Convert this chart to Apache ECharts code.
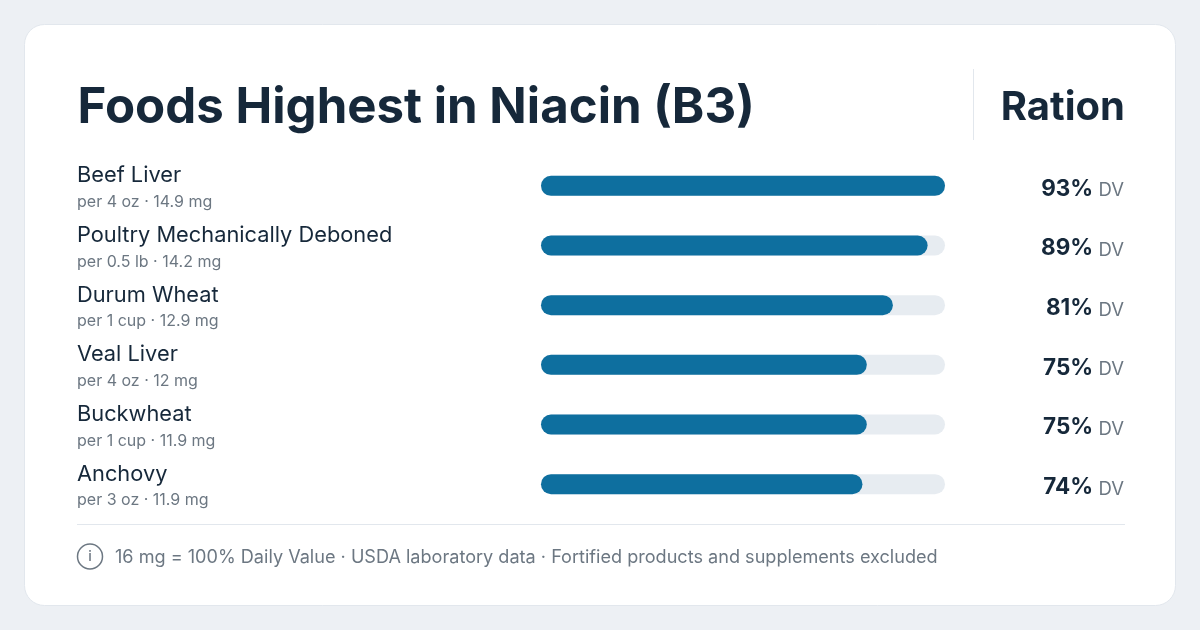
<!DOCTYPE html>
<html><head><meta charset="utf-8">
<style>html,body{margin:0;padding:0;background:#edf0f4}#c{width:1200px;height:630px}</style>
<script src="https://cdn.jsdelivr.net/npm/echarts@6/dist/echarts.min.js"></script>
</head><body><div id="c"></div>
<script>
const titleText = 'Foods Highest in Niacin (B3)';
const sideTitle = 'Ration';
const footnote = '16 mg = 100% Daily Value · USDA laboratory data · Fortified products and supplements excluded';
const foods = ['Beef Liver','Poultry Mechanically Deboned','Durum Wheat','Veal Liver','Buckwheat','Anchovy'];
const servings = ['per 4 oz · 14.9 mg','per 0.5 lb · 14.2 mg','per 1 cup · 12.9 mg','per 4 oz · 12 mg','per 1 cup · 11.9 mg','per 3 oz · 11.9 mg'];
const dvPercent = [93,89,81,75,75,74];
const FONT = 'Inter';
const INK = '#16283a', GREY = '#6c7782';
const chart = echarts.init(document.getElementById('c'), null, {renderer:'canvas'});
chart.setOption({
  animation:false,
  backgroundColor:'#edf0f4',
  textStyle:{fontFamily:FONT},
  grid:{left:541,right:255,top:156,height:358},
  xAxis:{type:'value',min:0,max:93,show:false},
  yAxis:[
    {type:'category',inverse:true,data:foods,axisLine:{show:false},axisTick:{show:false},
     axisLabel:{margin:464,align:'left',interval:0,padding:[7,0,0,0],
       formatter:(v,i)=>`{n|${v}}\n{s|${servings[i]}}`,
       rich:{n:{fontFamily:FONT,fontSize:21.8,color:INK,lineHeight:26},
             s:{fontFamily:FONT,fontSize:16,color:GREY,lineHeight:27}}}},
    {type:'category',inverse:true,position:'right',data:dvPercent,axisLine:{show:false},axisTick:{show:false},
     axisLabel:{margin:180,align:'right',interval:0,padding:[6,0,0,0],
       formatter:v=>`{v|${v}%} {d|DV}`,
       rich:{v:{fontFamily:FONT,fontSize:22.5,fontWeight:700,color:INK},
             d:{fontFamily:FONT,fontSize:18.5,color:GREY,padding:[4,1,0,2]}}}}
  ],
  series:[{type:'bar',data:dvPercent,barWidth:20,
    showBackground:true,backgroundStyle:{color:'#e7ecf1',borderRadius:10},
    itemStyle:{color:'#0e6f9f',borderRadius:10},silent:true}],
  graphic:[
    {type:'rect',z:-10,shape:{x:24.5,y:24.5,width:1151,height:581,r:20},style:{fill:'#fff',stroke:'#e2e7ed',lineWidth:1}},
    {type:'text',x:77.5,y:108,style:{text:titleText,font:`700 49.2px ${FONT}`,fill:INK,textVerticalAlign:'middle'}},
    {type:'text',x:1125,y:108,style:{text:sideTitle,font:`700 40px ${FONT}`,fill:INK,textAlign:'right',textVerticalAlign:'middle'}},
    {type:'line',shape:{x1:973.5,y1:69,x2:973.5,y2:140},style:{stroke:'#e2e7ed',lineWidth:1}},
    {type:'line',shape:{x1:77,y1:524.5,x2:1125,y2:524.5},style:{stroke:'#e2e7ed',lineWidth:1}},
    {type:'circle',shape:{cx:90,cy:556.5,r:12.5},style:{fill:'none',stroke:GREY,lineWidth:1.5}},
    {type:'text',x:90,y:556.5,style:{text:'i',font:`500 14px ${FONT}`,fill:GREY,textAlign:'center',textVerticalAlign:'middle'}},
    {type:'text',x:115,y:557.5,style:{text:footnote,font:`400 18.1px ${FONT}`,fill:GREY,textVerticalAlign:'middle'}}
  ]
});
</script></body></html>
